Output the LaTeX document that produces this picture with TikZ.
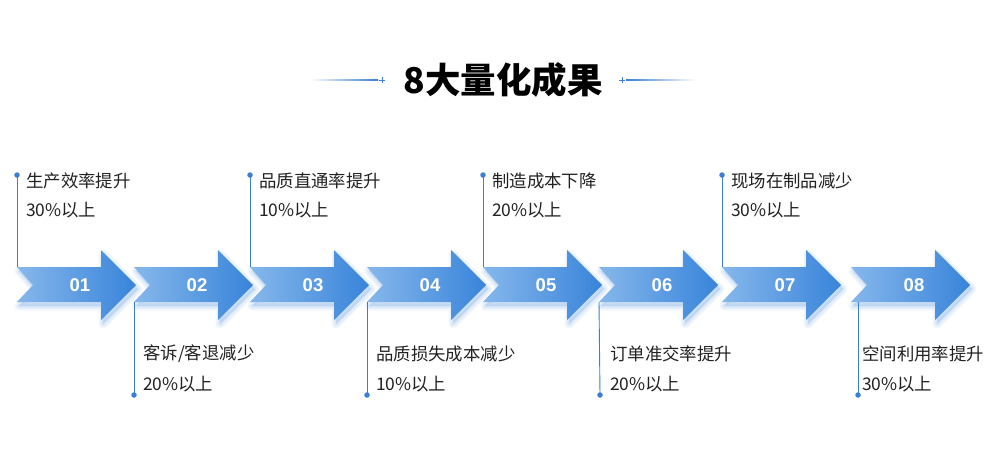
\documentclass[tikz,border=0pt]{standalone}
\usepackage{fontspec}
\setmainfont{Noto Sans CJK SC}
\newfontfamily\cjk{Noto Sans CJK SC}
\newfontfamily\numfont{Liberation Sans}
\definecolor{lineblue}{HTML}{3A7FD5}
\definecolor{arrowL}{HTML}{86B7EB}
\definecolor{arrowR}{HTML}{3884DA}
\definecolor{shadowc}{HTML}{4A8EE0}
\definecolor{txt}{HTML}{222222}
\tikzset{
  lbl/.style={anchor=west, inner sep=0pt, text=txt, font=\cjk\fontsize{17.4}{19}\selectfont},
  num/.style={inner sep=0pt, text=white, font=\numfont\bfseries\fontsize{18.5}{20}\selectfont},
  dotnode/.style={circle, fill=lineblue, inner sep=0pt, minimum size=5.5pt},
  conn/.style={draw=lineblue, line width=0.9pt},
  ttl/.style={inner sep=0pt, text=black, font=\cjk\bfseries\fontsize{35.5}{37}\selectfont},
}
\newcommand{\arrowshape}{(0,267) -- (84,267) -- (84,250) -- (119,285) -- (84,320) -- (84,302) -- (0,302) -- (16,285) -- cycle}
\newcommand{\qarrow}[3]{%
  \begin{scope}[shift={(#1,0)}]
    \foreach \lw in {9,6,3}{
      \path[fill=shadowc, draw=shadowc, line width=\lw pt, opacity=0.07, line join=round, shift={(2,4)}] \arrowshape;
    }
    \shade[left color=arrowL, right color=arrowR] \arrowshape;
    \coordinate (#3tl) at (0,267);
    \coordinate (#3bl) at (0,302);
    \node[num] (#3) at (63,285) {#2};
  \end{scope}}
\begin{document}
\begin{tikzpicture}[x=1pt,y=-1pt]
\useasboundingbox (0,0) rectangle (1000,472);
\fill[white] (0,0) rectangle (1000,472);
% title
\node[ttl] (title) at (503,80) {8大量化成果};
\shade[left color=white, right color=lineblue] (310,79.1) rectangle (378,80.9);
\shade[left color=lineblue, right color=white] (626,79.1) rectangle (695,80.9);
\node[inner sep=0pt] (cl) at (382,80) {};
\node[inner sep=0pt] (cr) at (622,80) {};
\draw[lineblue, line width=0.8pt] (379,80) -- (385,80) (382,77) -- (382,83);
\draw[lineblue, line width=0.8pt] (619,80) -- (625,80) (622,77) -- (622,83);
% arrows
\qarrow{17}{01}{a1}
\qarrow{134}{02}{a2}
\qarrow{250}{03}{a3}
\qarrow{367}{04}{a4}
\qarrow{483}{05}{a5}
\qarrow{599}{06}{a6}
\qarrow{722}{07}{a7}
\qarrow{851}{08}{a8}
% top labels
\node[dotnode] (d1) at (17,175) {};
\node[dotnode] (d3) at (250,175) {};
\node[dotnode] (d5) at (483,175) {};
\node[dotnode] (d7) at (722,175) {};
\draw[conn] (d1.center) -- (a1tl);
\draw[conn] (d3.center) -- (a3tl);
\draw[conn] (d5.center) -- (a5tl);
\draw[conn] (d7.center) -- (a7tl);
\node[lbl] (t1a) at (26,181) {生产效率提升};
\node[lbl] (t1b) at (26,210) {30\%以上};
\node[lbl] (t3a) at (259,181) {品质直通率提升};
\node[lbl] (t3b) at (259,210) {10\%以上};
\node[lbl] (t5a) at (492,181) {制造成本下降};
\node[lbl] (t5b) at (492,210) {20\%以上};
\node[lbl] (t7a) at (731,181) {现场在制品减少};
\node[lbl] (t7b) at (731,210) {30\%以上};
% bottom labels
\coordinate (a8bl2) at (858,302);
\node[dotnode] (d2) at (134,395) {};
\node[dotnode] (d4) at (367,395) {};
\node[dotnode] (d6) at (600,395) {};
\node[dotnode] (d8) at (858,395) {};
\draw[conn] (a2bl) -- (d2.center);
\draw[conn] (a4bl) -- (d4.center);
\draw[conn] (a6bl) -- (d6.center);
\draw[conn] (a8bl2) -- (d8.center);
\node[lbl] (t2a) at (143,354) {客诉/客退减少};
\node[lbl] (t2b) at (143,384) {20\%以上};
\node[lbl] (t4a) at (376,354) {品质损失成本减少};
\node[lbl] (t4b) at (376,384) {10\%以上};
\node[lbl] (t6a) at (610,354) {订单准交率提升};
\node[lbl] (t6b) at (610,384) {20\%以上};
\node[lbl] (t8a) at (862,354) {空间利用率提升};
\node[lbl] (t8b) at (862,384) {30\%以上};
\end{tikzpicture}
\end{document}
